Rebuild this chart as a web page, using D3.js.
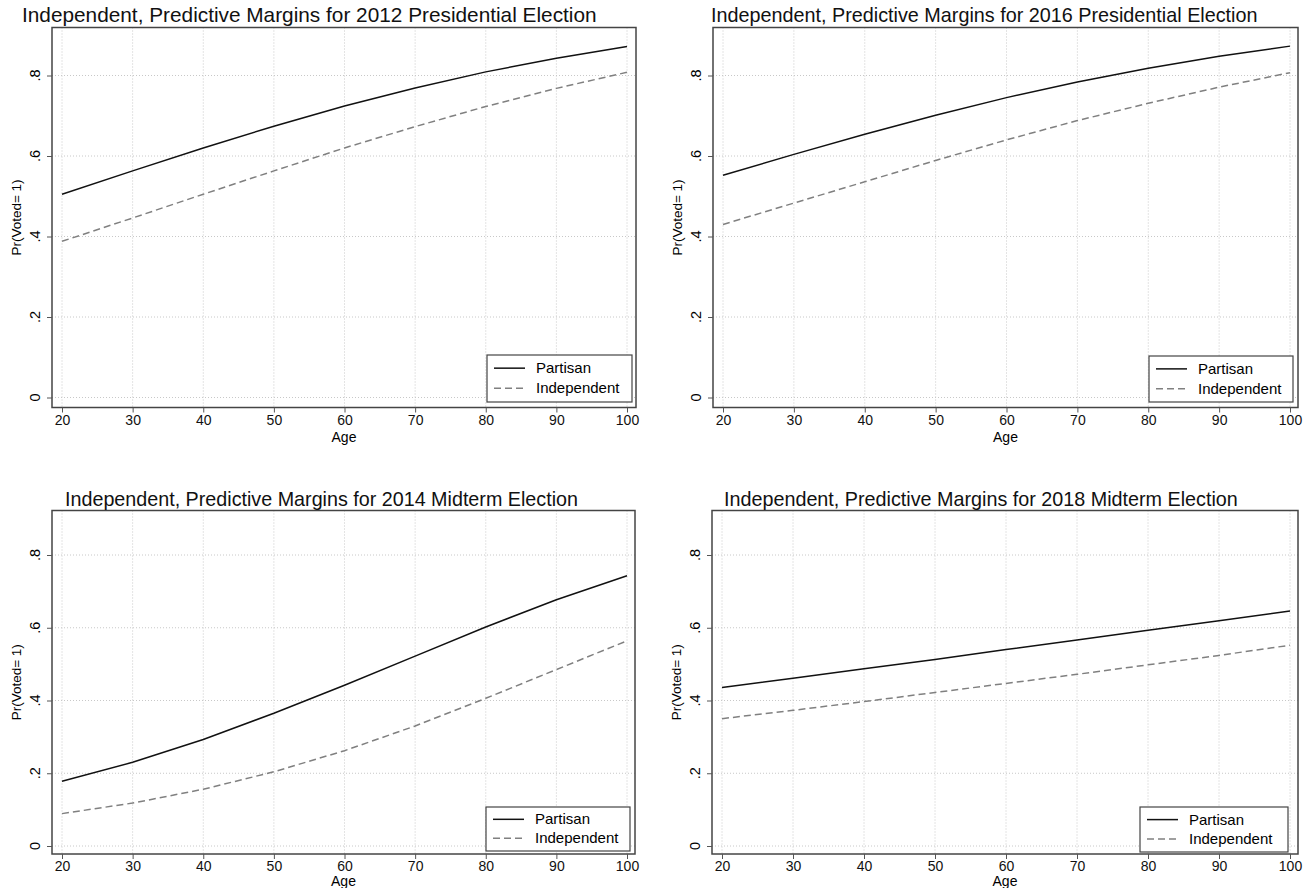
<!DOCTYPE html>
<html>
<head>
<meta charset="utf-8">
<script src="https://cdn.jsdelivr.net/npm/d3@7"></script>
<style>
  body { margin: 0; background: #fff; }
  svg { display: block; font-family: "Liberation Sans", Arial, sans-serif; }
</style>
</head>
<body>
<div id="bdy"></div>
<script>
// ages on the x axis
var ages = [20, 30, 40, 50, 60, 70, 80, 90, 100];
var yTicks = [0, 0.2, 0.4, 0.6, 0.8];
var yTickLabels = ["0", ".2", ".4", ".6", ".8"];
var seriesNames = ["Partisan", "Independent"];

var titles = [
  "Independent, Predictive Margins for 2012 Presidential Election",
  "Independent, Predictive Margins for 2016 Presidential Election",
  "Independent, Predictive Margins for 2014 Midterm Election",
  "Independent, Predictive Margins for 2018 Midterm Election"
];

// predicted Pr(Voted=1) by age
var partisan2012    = [0.505, 0.563, 0.620, 0.674, 0.724, 0.769, 0.809, 0.843, 0.872];
var independent2012 = [0.388, 0.446, 0.505, 0.563, 0.620, 0.673, 0.723, 0.768, 0.808];
var partisan2016    = [0.552, 0.604, 0.654, 0.701, 0.745, 0.784, 0.818, 0.848, 0.873];
var independent2016 = [0.430, 0.483, 0.536, 0.589, 0.640, 0.688, 0.731, 0.771, 0.807];
var partisan2014    = [0.178, 0.230, 0.293, 0.365, 0.442, 0.522, 0.602, 0.677, 0.743];
var independent2014 = [0.089, 0.118, 0.156, 0.204, 0.262, 0.330, 0.406, 0.485, 0.564];
var partisan2018    = [0.436, 0.461, 0.487, 0.513, 0.540, 0.566, 0.593, 0.619, 0.646];
var independent2018 = [0.350, 0.373, 0.397, 0.422, 0.447, 0.472, 0.498, 0.524, 0.552];

var svg = d3.select('#bdy').append('svg')
    .attr('width', 1308)
    .attr('height', 888);

//========================================================================
//                      ONE PANEL
//========================================================================
function panel(p) {
    var x = d3.scaleLinear().domain([20, 100]).range([p.x20, p.x100]);
    var y = d3.scaleLinear().domain([0, 0.8]).range([p.y0, p.y8]);
    var g = svg.append('g');

    // grid
    g.selectAll('.vgrid').data(ages).enter().append('line')
        .attr('x1', d => x(d)).attr('x2', d => x(d))
        .attr('y1', p.top).attr('y2', p.bottom)
        .attr('stroke', '#c8c8c8').attr('stroke-dasharray', '1,2');
    g.selectAll('.hgrid').data(yTicks).enter().append('line')
        .attr('y1', d => y(d)).attr('y2', d => y(d))
        .attr('x1', p.left).attr('x2', p.right)
        .attr('stroke', '#c8c8c8').attr('stroke-dasharray', '1,2');

    // lines
    var line = d3.line().x((d, i) => x(ages[i])).y(d => y(d));
    g.append('path').attr('d', line(p.ind))
        .attr('fill', 'none').attr('stroke', '#808080')
        .attr('stroke-width', 1.5).attr('stroke-dasharray', '7,4');
    g.append('path').attr('d', line(p.par))
        .attr('fill', 'none').attr('stroke', '#111')
        .attr('stroke-width', 1.5);

    // frame
    g.append('rect')
        .attr('x', p.left).attr('y', p.top)
        .attr('width', p.right - p.left).attr('height', p.bottom - p.top)
        .attr('fill', 'none').attr('stroke', '#444').attr('stroke-width', 1.5);

    // x axis
    var xa = g.append('g').attr('transform', 'translate(0,' + p.bottom + ')')
        .call(d3.axisBottom(x).tickValues(ages).tickSize(5).tickPadding(p.xpad));
    xa.select('.domain').remove();
    xa.selectAll('line').attr('stroke', '#555');
    xa.selectAll('text').style('font-size', '14px').attr('fill', '#111')
        .attr('font-family', '"Liberation Sans", Arial, sans-serif');
    g.append('text')
        .attr('x', (p.left + p.right) / 2).attr('y', p.bottom + p.agey)
        .attr('text-anchor', 'middle').style('font-size', '14px')
        .text('Age');

    // y axis
    var ya = g.append('g').attr('transform', 'translate(' + p.left + ',0)')
        .call(d3.axisLeft(y).tickValues(yTicks).tickSize(5)
            .tickFormat((d, i) => yTickLabels[i]));
    ya.select('.domain').remove();
    ya.selectAll('line').attr('stroke', '#555');
    ya.selectAll('text').remove();
    g.selectAll('.ylab').data(yTicks).enter().append('text')
        .attr('transform', d => 'translate(' + (p.left - 12) + ',' + y(d) + ') rotate(-90)')
        .attr('text-anchor', 'middle')
        .style('font-size', '14.5px')
        .text((d, i) => yTickLabels[i]);
    g.append('text')
        .attr('transform', 'translate(' + p.ytx + ',' + ((p.top + p.bottom) / 2) + ') rotate(-90)')
        .attr('text-anchor', 'middle').style('font-size', '13.5px')
        .text('Pr(Voted= 1)');

    // title, sized to the width it takes in the picture
    var t = g.append('text')
        .attr('x', p.tx).attr('y', p.ty)
        .style('font-size', '17px').attr('fill', '#111')
        .text(p.title);
    var w = t.node().getComputedTextLength();
    t.style('font-size', (17 * p.tw / w) + 'px');

    // legend
    var L = p.leg;
    var lg = g.append('g');
    lg.append('rect')
        .attr('x', L[0]).attr('y', L[1])
        .attr('width', L[2] - L[0]).attr('height', L[3] - L[1])
        .attr('fill', '#fff').attr('stroke', '#444').attr('stroke-width', 1.2);
    var rows = L[3] - L[1];
    seriesNames.forEach(function(name, i) {
        var yy = L[1] + rows * (i === 0 ? 0.28 : 0.71);
        lg.append('line')
            .attr('x1', L[0] + 7).attr('x2', L[0] + 38)
            .attr('y1', yy).attr('y2', yy)
            .attr('stroke', i === 0 ? '#111' : '#808080')
            .attr('stroke-width', 1.5)
            .attr('stroke-dasharray', i === 0 ? null : '7,4');
        lg.append('text')
            .attr('x', L[0] + 49).attr('y', yy + 5)
            .style('font-size', '15px')
            .text(name);
    });
}

panel({title: titles[0], par: partisan2012, ind: independent2012,
       left: 52, right: 636, top: 27.5, bottom: 407.5,
       x20: 62, x100: 627, y0: 397.5, y8: 75.5, xpad: 3, agey: 34,
       tx: 22, ty: 22, tw: 575, ytx: 21, leg: [487, 355, 632, 402]});
panel({title: titles[1], par: partisan2016, ind: independent2016,
       left: 713, right: 1298, top: 27.5, bottom: 407.5,
       x20: 723, x100: 1290, y0: 397.5, y8: 75.5, xpad: 3, agey: 34,
       tx: 711, ty: 22, tw: 547, ytx: 682, leg: [1149, 356, 1293, 402]});
panel({title: titles[2], par: partisan2014, ind: independent2014,
       left: 52, right: 635, top: 510.5, bottom: 854,
       x20: 62, x100: 627, y0: 846, y8: 555, xpad: 2, agey: 32,
       tx: 65, ty: 506, tw: 513, ytx: 21, leg: [486, 807, 630, 851]});
panel({title: titles[3], par: partisan2018, ind: independent2018,
       left: 712, right: 1298, top: 510.5, bottom: 854,
       x20: 722, x100: 1290, y0: 846, y8: 555, xpad: 2, agey: 32,
       tx: 724, ty: 506, tw: 514, ytx: 681, leg: [1140, 807, 1288, 852]});
</script>
</body>
</html>
